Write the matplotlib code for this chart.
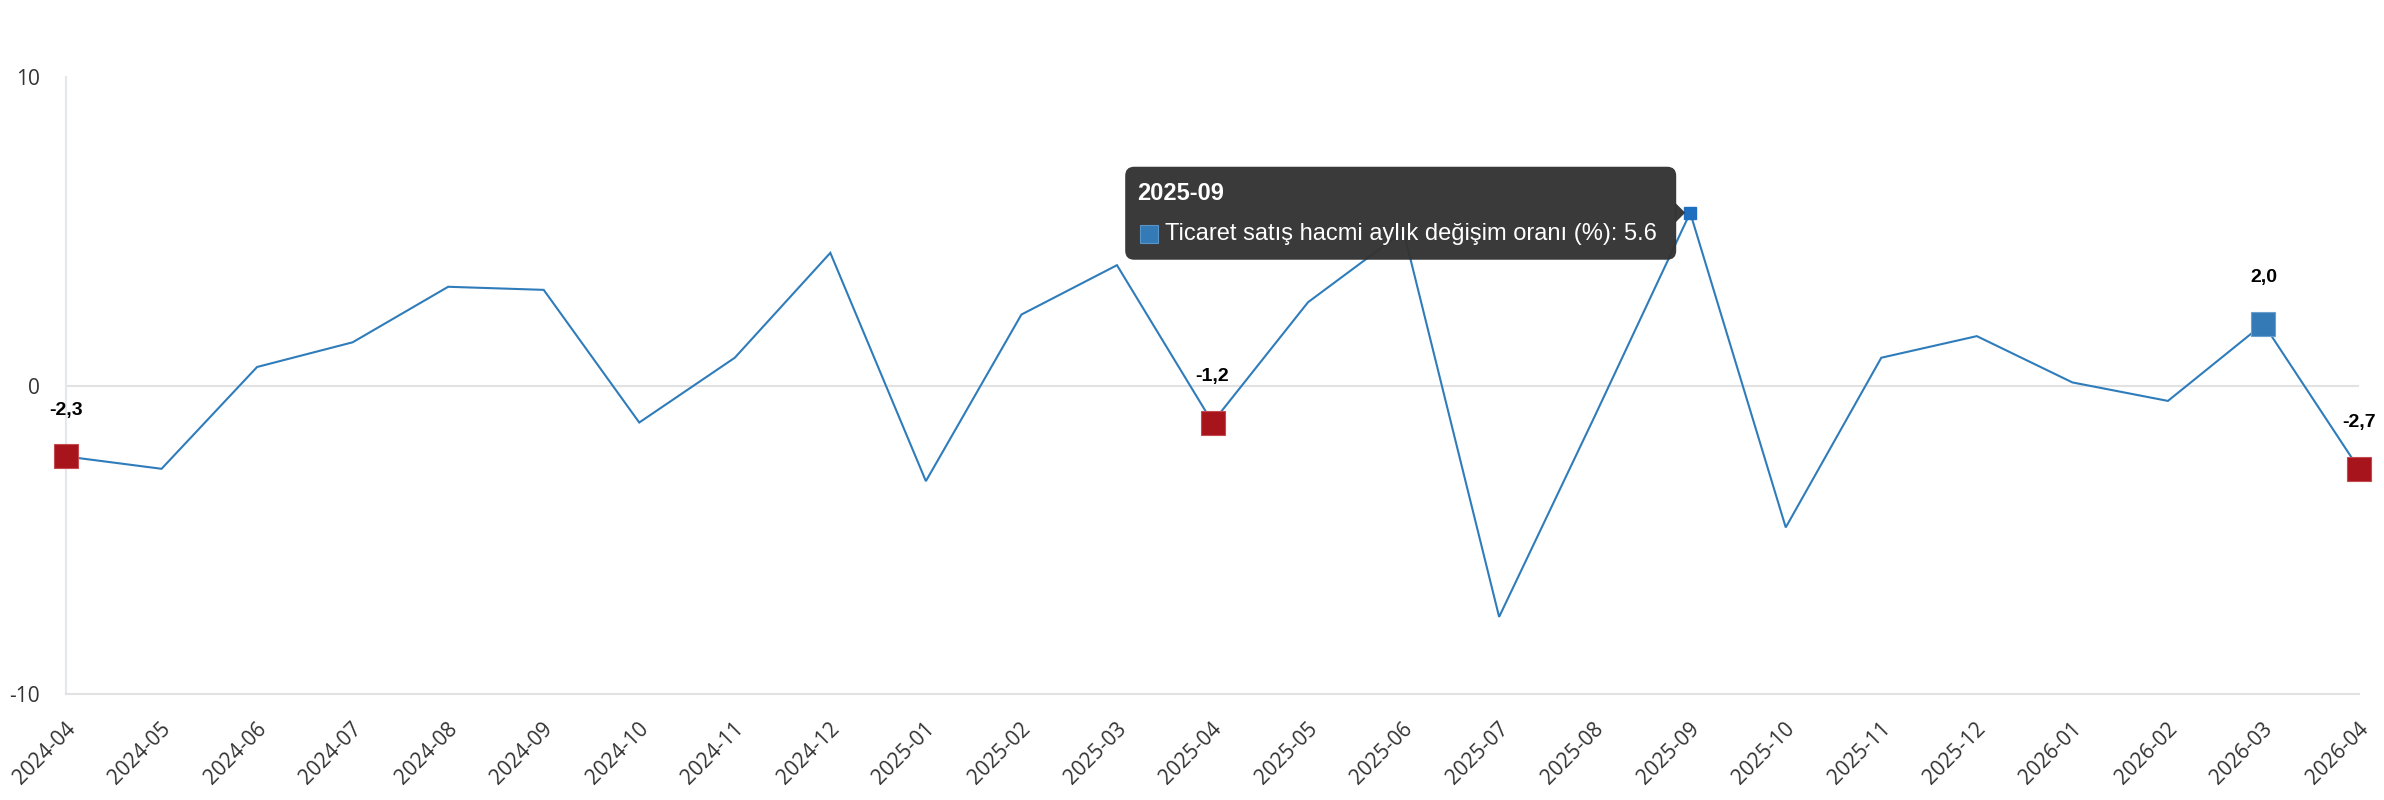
import matplotlib
matplotlib.use('Agg')
import matplotlib.pyplot as plt
from matplotlib.patches import FancyBboxPatch, Polygon, Rectangle
from matplotlib.transforms import IdentityTransform, ScaledTranslation
import numpy as np

months = ['2024-04', '2024-05', '2024-06', '2024-07', '2024-08', '2024-09',
          '2024-10', '2024-11', '2024-12', '2025-01', '2025-02', '2025-03',
          '2025-04', '2025-05', '2025-06', '2025-07', '2025-08', '2025-09',
          '2025-10', '2025-11', '2025-12', '2026-01', '2026-02', '2026-03',
          '2026-04']
values = [-2.3, -2.7, 0.6, 1.4, 3.2, 3.1, -1.2, 0.9, 4.3, -3.1, 2.3, 3.9,
          -1.2, 2.7, 5.0, -7.5, -1.0, 5.6, -4.6, 0.9, 1.6, 0.1, -0.5, 2.0, -2.7]
highlighted = ['2024-04', '2025-04', '2026-03', '2026-04']
tooltip_month = '2025-09'
series_name = 'Ticaret satış hacmi aylık değişim oranı (%)'
yticks = [-10, 0, 10]

LINE = '#2f7cbb'
RED = '#a8141b'
BLUE = '#337ab7'
W, H = 2384, 800

fig = plt.figure(figsize=(W / 100, H / 100), dpi=100)
ax = fig.add_axes([66 / W, 106 / H, (2359 - 66) / W, (723 - 106) / H])
x = np.arange(len(months))
ax.plot(x, values, color=LINE, lw=1.5, zorder=3, solid_joinstyle='miter')
ax.set_xlim(0, len(months) - 1)
ax.set_ylim(yticks[0], yticks[-1])
ax.axhline(0, color='#e2e2e2', lw=1.5, zorder=1)

for s in ['top', 'right']:
    ax.spines[s].set_visible(False)
ax.spines['left'].set_color('#e3e7ee')
ax.spines['left'].set_linewidth(1.5)
ax.spines['bottom'].set_color('#e2e2e2')
ax.spines['bottom'].set_linewidth(1.5)

ax.set_yticks(yticks)
ax.set_yticklabels([str(t) for t in yticks], fontsize=15, color='#333333',
                   family='Open Sans')
ax.tick_params(axis='y', length=0, pad=19)
ax.set_xticks(x)
ax.set_xticklabels(months, rotation=45, ha='right', va='center',
                   rotation_mode='anchor', fontsize=15, color='#333333',
                   family='Open Sans')
ax.tick_params(axis='x', length=0, pad=23)
shift = ScaledTranslation(6 / 100, 0, fig.dpi_scale_trans)
for lbl in ax.get_xticklabels():
    lbl.set_transform(lbl.get_transform() + shift)

# highlighted points with labels
for m in highlighted:
    i = months.index(m)
    v = values[i]
    col = RED if v < 0 else BLUE
    edge = '#c44a50' if v < 0 else '#6aa0d0'
    ax.plot([i], [v], marker='s', ms=17, mfc=col, mec=edge, mew=0.8,
            clip_on=False, zorder=5, linestyle='none')
    ax.annotate(f"{v:.1f}".replace('.', ','), (i, v), xytext=(0, 33),
                textcoords='offset points', ha='center', va='center',
                fontsize=14, fontweight='bold', color='#000000',
                family='Liberation Sans', zorder=6, annotation_clip=False)

# tooltip
ti = months.index(tooltip_month)
tv = values[ti]
ax.plot([ti], [tv], marker='s', ms=8.5, mfc='#1f6fc0', mec='#1f6fc0',
        clip_on=False, zorder=5, linestyle='none')
fig.canvas.draw()
px, py = ax.transData.transform((ti, tv))
right = px - 14
left = right - 551
top = py + 46
bottom = py - 47
ident = IdentityTransform()
box = FancyBboxPatch((left, bottom), right - left, top - bottom,
                     boxstyle='round,pad=0,rounding_size=9',
                     transform=ident, facecolor='#333333', edgecolor='none',
                     alpha=0.97, zorder=10)
fig.patches.append(box)
tri = Polygon([(right - 1, py + 10), (px - 5, py), (right - 1, py - 10)],
              closed=True, transform=ident, facecolor='#333333',
              edgecolor='none', alpha=0.97, zorder=10)
fig.patches.append(tri)
fig.text(left + 12, top - 27, tooltip_month, transform=ident, color='white',
         fontsize=17, fontweight='bold', family='Liberation Sans',
         ha='left', va='center', zorder=11)
sq = Rectangle((left + 15, top - 76), 18, 18, transform=ident,
               facecolor=BLUE, edgecolor='#5b95c8', lw=0.8, zorder=11)
fig.patches.append(sq)
fig.text(left + 40, top - 67, f"{series_name}: {tv}", transform=ident,
         color='white', fontsize=17, family='Liberation Sans',
         ha='left', va='center', zorder=11)

fig.savefig('out.png', dpi=100)
